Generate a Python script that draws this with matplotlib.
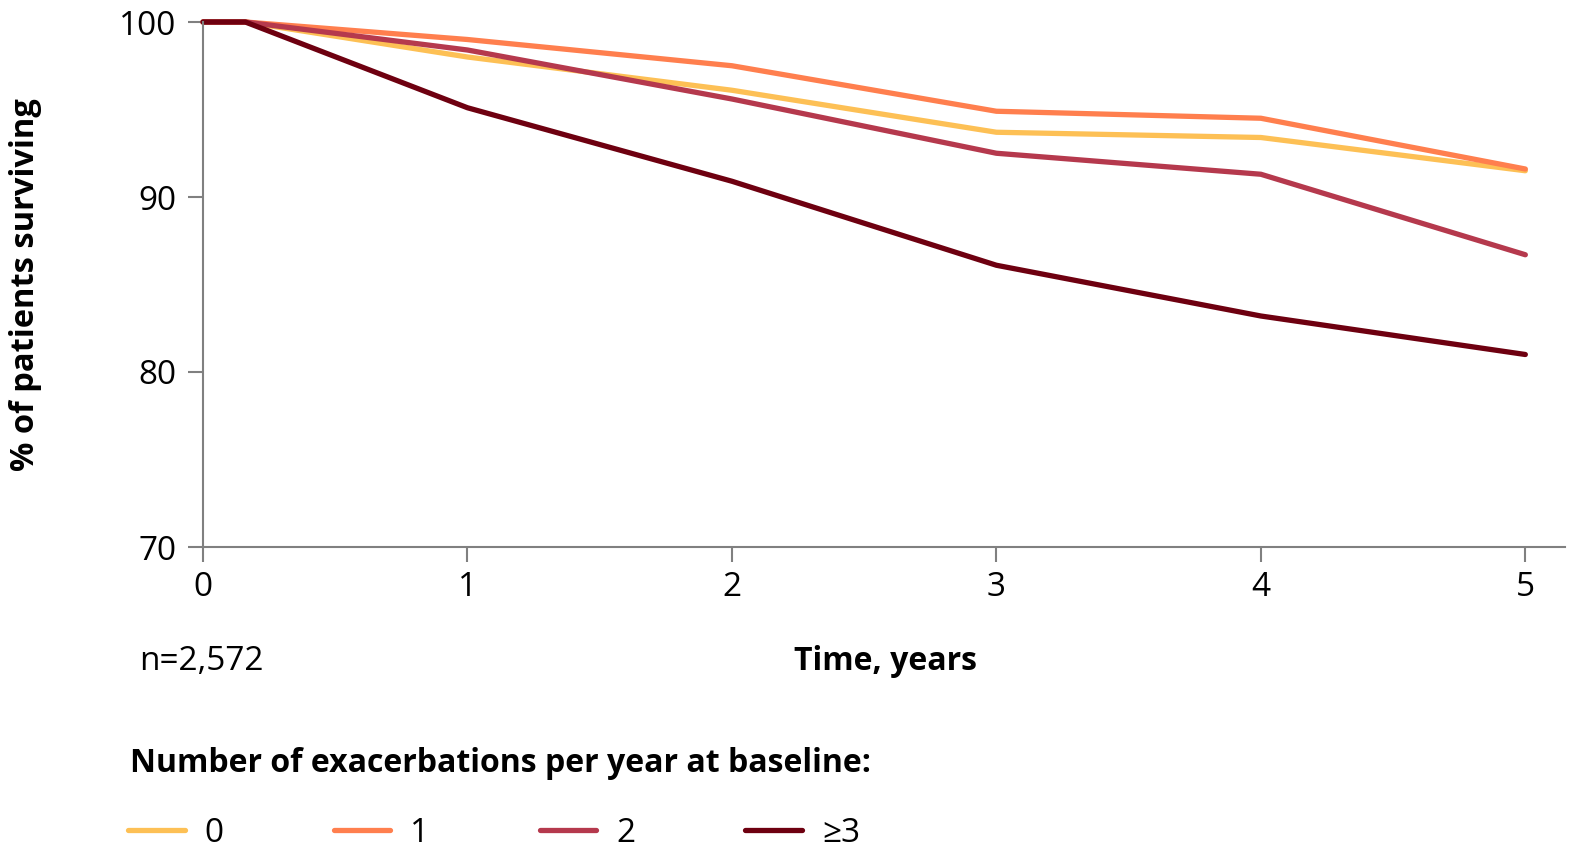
import matplotlib
matplotlib.use('Agg')
import matplotlib.pyplot as plt

plt.rcParams['font.family'] = ['Open Sans', 'DejaVu Sans']

# survival data
years = [0, 0.16, 1, 2, 3, 4, 5]
surv_0 = [100, 100, 98.0, 96.1, 93.7, 93.4, 91.5]
surv_1 = [100, 100, 99.0, 97.5, 94.9, 94.5, 91.6]
surv_2 = [100, 100, 98.4, 95.6, 92.5, 91.3, 86.7]
surv_3 = [100, 100, 95.1, 90.9, 86.1, 83.2, 81.0]

labels = ['0', '1', '2', '\u22653']
colors = ['#FDC055', '#FF7F4E', '#B5394D', '#6E0010']

fig = plt.figure(figsize=(15.83, 8.66), dpi=100)
ax = fig.add_axes([203 / 1583, 1 - 547 / 866, 1362 / 1583, 525 / 866])

handles = []
for ys, lab, col in zip([surv_0, surv_1, surv_2, surv_3], labels, colors):
    ln, = ax.plot(years, ys, color=col, lw=3.8, label=lab,
                  solid_capstyle='round', clip_on=False)
    handles.append(ln)

ax.set_xlim(0, 5.15)
ax.set_ylim(70, 100)
ax.set_xticks([0, 1, 2, 3, 4, 5])
ax.set_yticks([70, 80, 90, 100])

for s in ['top', 'right']:
    ax.spines[s].set_visible(False)
for s in ['left', 'bottom']:
    ax.spines[s].set_color('#808080')
    ax.spines[s].set_linewidth(1.5)

ax.tick_params(axis='both', colors='#808080', length=11, width=1.5,
               labelsize=24, labelcolor='black')
ax.tick_params(axis='x', pad=6)
ax.tick_params(axis='y', pad=8)

ax.set_ylabel('% of patients surviving', fontsize=23.5, fontweight='bold')
ax.yaxis.set_label_coords(-0.118, 0.5)

fig.text(885 / 1583, 1 - 662 / 866, 'Time, years', fontsize=23,
         fontweight='bold', ha='center', va='center')
fig.text(139 / 1583, 1 - 662 / 866, 'n=2,572', fontsize=24,
         ha='left', va='center')
fig.text(130 / 1583, 1 - 763 / 866, 'Number of exacerbations per year at baseline:',
         fontsize=23, fontweight='bold', ha='left', va='center')

leg = fig.legend(handles=handles, loc='center left',
                 bbox_to_anchor=(128 / 1583, 1 - 833 / 866), ncol=4,
                 frameon=False, fontsize=24, handlelength=1.7,
                 handletextpad=0.6, columnspacing=3.3, borderpad=0,
                 borderaxespad=0)

fig.savefig('out.png', dpi=100)
